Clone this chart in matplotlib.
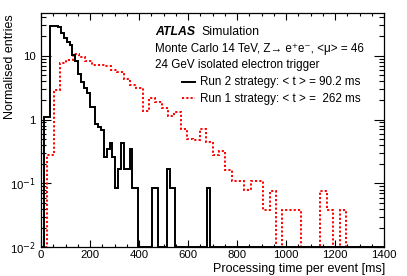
import numpy as np
import matplotlib
matplotlib.use("Agg")
import matplotlib.pyplot as plt
from matplotlib.lines import Line2D
from matplotlib.ticker import FixedLocator, MultipleLocator, NullFormatter

plt.rcParams["font.family"] = ["Liberation Sans", "DejaVu Sans"]

# ---------------- data ----------------
t_min, t_max = 0, 1400
run2_nbins = 120
run1_nbins = 54

run2_values = [0, 1.1, 1.1, 29, 29.5, 29.5, 28, 22.4, 18.7, 16.2,
               14.7, 10.3, 8.1, 5.2, 3.8, 3.1, 2.6, 1.55, 1.55, 0.85,
               0.77, 0.69, 0.255, 0.34, 0.43, 0.255, 0.085, 0.17, 0.43, 0.17,
               0.17, 0.34, 0.085, 0.085, 0, 0, 0, 0, 0, 0.085,
               0.085, 0, 0, 0, 0.17, 0.085, 0.085, 0, 0, 0,
               0, 0, 0, 0, 0, 0, 0, 0, 0.085, 0] + [0] * 60

run1_values = [0, 0.28, 2.9, 7.8, 8.4, 10.5, 9.6, 8.3, 7.2, 7.1,
               7.0, 6.0, 5.5, 4.3, 3.5, 3.1, 1.35, 2.15, 1.9, 1.5,
               1.15, 1.3, 0.7, 0.5, 0.47, 0.72, 0.45, 0.28, 0.32, 0.16,
               0.11, 0.11, 0.079, 0.11, 0.11, 0.0385, 0.076, 0, 0.0385, 0.0385,
               0.0385, 0, 0, 0, 0.076, 0.0385, 0, 0.0385, 0, 0,
               0, 0, 0, 0]

y_min, y_max = 0.01, 46
y_major = [0.01, 0.1, 1, 10]
y_major_labels = ["10$^{-2}$", "10$^{-1}$", "1", "10"]
x_major = [0, 200, 400, 600, 800, 1000, 1200, 1400]

run2_label = "Run 2 strategy: < t > = 90.2 ms"
run1_label = "Run 1 strategy: < t > =  262 ms"
line1 = "Monte Carlo 14 TeV, Z\u2192 e\u207ae\u207b, <\u03bc> = 46"
line2 = "24 GeV isolated electron trigger"

# ---------------- figure ----------------
W, H = 407, 276
fig = plt.figure(figsize=(W / 100, H / 100), dpi=100)
ax = fig.add_axes([41 / W, 1 - 247.3 / H, (384 - 41) / W, (247.3 - 13.3) / H])

run2_edges = np.linspace(t_min, t_max, run2_nbins + 1)
run1_edges = np.linspace(t_min, t_max, run1_nbins + 1)
r1 = np.maximum(np.array(run1_values, float), y_min)
r2 = np.maximum(np.array(run2_values, float), y_min)

ax.stairs(r1, run1_edges, baseline=y_min, color="#ff0000", lw=1.4,
          linestyle=(0, (1.1, 1.1)), zorder=2)
ax.stairs(r2, run2_edges, baseline=y_min, color="black", lw=1.4, zorder=3)

ax.set_yscale("log")
ax.set_xlim(t_min, t_max)
ax.set_ylim(y_min, y_max)

ax.yaxis.set_major_locator(FixedLocator(y_major))
ax.set_yticklabels(y_major_labels)
minors = [m * d for d in [0.01, 0.1, 1, 10] for m in range(2, 10) if m * d < y_max]
ax.yaxis.set_minor_locator(FixedLocator(minors))
ax.yaxis.set_minor_formatter(NullFormatter())
ax.xaxis.set_major_locator(FixedLocator(x_major))
ax.xaxis.set_minor_locator(MultipleLocator(50))

ax.tick_params(axis="both", which="both", direction="in", top=True, right=True,
               width=0.8, labelsize=8.2, colors="black")
ax.tick_params(axis="y", which="major", length=7, pad=4)
ax.tick_params(axis="y", which="minor", length=3.5)
ax.tick_params(axis="x", which="major", length=5, pad=2)
ax.tick_params(axis="x", which="minor", length=2.5)
for s in ax.spines.values():
    s.set_linewidth(0.9)

fig.text(10 / W, 1 - 14 / H, "Normalised entries", rotation=90,
         ha="center", va="top", fontsize=9)
fig.text(385 / W, 1 - 272 / H, "Processing time per event [ms]",
         ha="right", va="baseline", fontsize=9)

fs = 8.4
fig.text(155 / W, 1 - 35 / H, "ATLAS", fontsize=8.8, fontweight="bold",
         fontstyle="italic", ha="left", va="baseline")
fig.text(201.5 / W, 1 - 35 / H, "Simulation", fontsize=8.8, ha="left", va="baseline")
fig.text(155 / W, 1 - 51.7 / H, line1, fontsize=fs, ha="left", va="baseline")
fig.text(155 / W, 1 - 68.3 / H, line2, fontsize=fs, ha="left", va="baseline")
fig.text(200 / W, 1 - 85 / H, run2_label, fontsize=fs, ha="left", va="baseline")
fig.text(200 / W, 1 - 101.7 / H, run1_label, fontsize=fs, ha="left", va="baseline")
fig.add_artist(Line2D([182 / W, 195 / W], [1 - 81.5 / H, 1 - 81.5 / H],
                      color="black", lw=1.4, transform=fig.transFigure))
fig.add_artist(Line2D([182 / W, 195 / W], [1 - 98.2 / H, 1 - 98.2 / H],
                      color="#ff0000", lw=1.4, linestyle=(0, (1.1, 1.1)),
                      transform=fig.transFigure))

fig.savefig("out.png", dpi=100)
